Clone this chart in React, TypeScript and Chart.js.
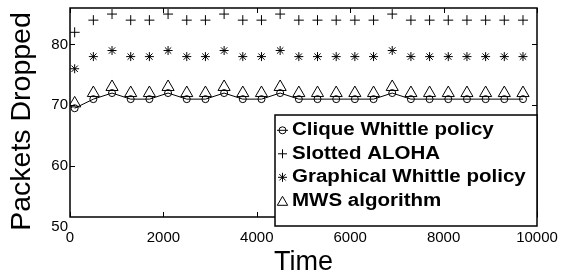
import React, { useEffect, useRef } from 'react';
import { Chart, registerables } from 'chart.js';

Chart.register(...registerables);

const FONT = '"Liberation Sans", Arial, Helvetica, sans-serif';

const timeSteps = [100, 500, 900, 1300, 1700, 2100, 2500, 2900, 3300, 3700, 4100, 4500, 4900, 5300, 5700, 6100, 6500, 6900, 7300, 7700, 8100, 8500, 8900, 9300, 9700];
const cliqueWhittle = [69.5, 71, 72, 71, 71, 72, 71, 71, 72, 71, 71, 72, 71, 71, 71, 71, 71, 72, 71, 71, 71, 71, 71, 71, 71];
const slottedAloha = [82, 84, 85, 84, 84, 85, 84, 84, 85, 84, 84, 85, 84, 84, 84, 84, 84, 85, 84, 84, 84, 84, 84, 84, 84];
const graphicalWhittle = [76, 78, 79, 78, 78, 79, 78, 78, 79, 78, 78, 79, 78, 78, 78, 78, 78, 79, 78, 78, 78, 78, 78, 78, 78];
const mwsAlgorithm = [70.3, 72, 73, 72, 72, 73, 72, 72, 73, 72, 72, 73, 72, 72, 72, 72, 72, 73, 72, 72, 72, 72, 72, 72, 72];

const seriesLabels = ['Clique Whittle policy', 'Slotted ALOHA', 'Graphical Whittle policy', 'MWS algorithm'];
const seriesMarkers = ['circle', 'cross', 'star', 'triangle'];
const xTickValues = [0, 2000, 4000, 6000, 8000, 10000];
const yTickValues = [50, 60, 70, 80];
const xTitle = 'Time';
const yTitle = 'Packets Dropped';

function drawMarker(ctx: CanvasRenderingContext2D, style: string, x: number, y: number, r: number) {
  ctx.beginPath();
  if (style === 'circle') {
    ctx.arc(x, y, r, 0, Math.PI * 2);
  } else if (style === 'cross') {
    ctx.moveTo(x - r, y); ctx.lineTo(x + r, y);
    ctx.moveTo(x, y - r); ctx.lineTo(x, y + r);
  } else if (style === 'star') {
    ctx.moveTo(x - r, y); ctx.lineTo(x + r, y);
    ctx.moveTo(x, y - r); ctx.lineTo(x, y + r);
    const d = r * Math.SQRT1_2;
    ctx.moveTo(x - d, y - d); ctx.lineTo(x + d, y + d);
    ctx.moveTo(x - d, y + d); ctx.lineTo(x + d, y - d);
  } else if (style === 'triangle') {
    ctx.moveTo(x, y - r);
    ctx.lineTo(x + 0.866 * r, y + 0.5 * r);
    ctx.lineTo(x - 0.866 * r, y + 0.5 * r);
    ctx.closePath();
  }
  ctx.stroke();
}

const framePlugin = {
  id: 'matlabFrame',
  afterDatasetsDraw(chart: any) {
    const { ctx, chartArea: a, scales } = chart;
    const xs = scales.x;
    const ys = scales.y;
    ctx.save();
    ctx.strokeStyle = '#000';
    ctx.lineWidth = 1;
    ctx.beginPath();
    for (const v of xTickValues) {
      const px = Math.round(xs.getPixelForValue(v)) + 0.5;
      ctx.moveTo(px, a.bottom); ctx.lineTo(px, a.bottom - 5);
      ctx.moveTo(px, a.top); ctx.lineTo(px, a.top + 5);
    }
    for (const v of yTickValues) {
      if (v <= ys.min || v >= ys.max) continue;
      const py = Math.round(ys.getPixelForValue(v)) + 0.5;
      ctx.moveTo(a.left, py); ctx.lineTo(a.left + 5, py);
      ctx.moveTo(a.right, py); ctx.lineTo(a.right - 5, py);
    }
    ctx.stroke();
    ctx.lineWidth = 1.5;
    ctx.strokeRect(a.left, a.top, a.right - a.left, a.bottom - a.top);

    // y axis title
    ctx.save();
    ctx.translate(22.5, 121.5);
    ctx.rotate(-Math.PI / 2);
    ctx.font = `28.5px ${FONT}`;
    ctx.fillStyle = '#000';
    ctx.textAlign = 'center';
    ctx.textBaseline = 'middle';
    ctx.fillText(yTitle, 0, 0);
    ctx.restore();

    // legend box
    const lx0 = 275, ly0 = 115, lx1 = 537, ly1 = 226;
    ctx.fillStyle = '#fff';
    ctx.fillRect(lx0, ly0, lx1 - lx0, ly1 - ly0);
    ctx.lineWidth = 1.5;
    ctx.strokeStyle = '#000';
    ctx.strokeRect(lx0, ly0, lx1 - lx0, ly1 - ly0);
    const radii: Record<string, number> = { circle: 3.5, cross: 4.5, star: 4.5, triangle: 6 };
    chart.data.datasets.forEach((ds: any, i: number) => {
      const yy = 130.3 + i * 23.5;
      const style = seriesMarkers[i];
      ctx.lineWidth = 1;
      ctx.strokeStyle = '#000';
      if (ds.showLine) {
        ctx.beginPath();
        ctx.moveTo(277, yy); ctx.lineTo(288, yy);
        ctx.stroke();
      }
      drawMarker(ctx, style, 282.5, style === 'triangle' ? yy + 1.5 : yy, radii[style]);
      ctx.save();
      ctx.translate(292, yy);
      ctx.scale(1.14, 1);
      ctx.font = `bold 18px ${FONT}`;
      ctx.fillStyle = '#000';
      ctx.textAlign = 'left';
      ctx.textBaseline = 'middle';
      ctx.fillText(ds.label, 0, 0);
      ctx.restore();
    });
    ctx.restore();
  },
};

export default function App() {
  const canvasRef = useRef<HTMLCanvasElement | null>(null);

  useEffect(() => {
    document.body.style.margin = '0';
    const canvas = canvasRef.current;
    if (!canvas) return;
    const series = [cliqueWhittle, slottedAloha, graphicalWhittle, mwsAlgorithm];
    const radii = [3.5, 5, 4.5, 7];
    const datasets = series.map((vals, i) => ({
      label: seriesLabels[i],
      data: timeSteps.map((t, j) => ({ x: t, y: vals[j] })),
      showLine: i === 0,
      borderColor: '#000',
      borderWidth: 1,
      backgroundColor: 'rgba(0,0,0,0)',
      pointStyle: seriesMarkers[i],
      pointRadius: radii[i],
      pointBorderWidth: 1,
      pointBorderColor: '#000',
      pointBackgroundColor: 'rgba(0,0,0,0)',
      tension: 0,
    }));

    const zeroPad = (s: any) => {
      s.paddingLeft = 0; s.paddingRight = 0; s.paddingTop = 0; s.paddingBottom = 0;
    };

    const chart = new Chart(canvas, {
      type: 'scatter',
      data: { datasets },
      options: {
        animation: false,
        responsive: true,
        maintainAspectRatio: false,
        devicePixelRatio: 1,
        layout: { padding: { left: 0, top: 7, right: 24, bottom: 0 } },
        plugins: { legend: { display: false }, tooltip: { enabled: false } },
        scales: {
          x: {
            type: 'linear',
            min: 0,
            max: 10000,
            grid: { display: false, drawTicks: false },
            border: { display: false },
            afterBuildTicks: (s: any) => { s.ticks = xTickValues.map((v) => ({ value: v })); },
            afterFit: (s: any) => { s.height = 63; zeroPad(s); },
            ticks: {
              autoSkip: false,
              maxRotation: 0,
              padding: 11.5,
              color: '#000',
              font: { family: FONT, size: 15 },
              callback: (v: any) => String(v),
            },
            title: {
              display: true,
              text: xTitle,
              color: '#000',
              font: { family: FONT, size: 27, lineHeight: 1.2 },
              padding: { top: 0, bottom: 1 },
            },
          },
          y: {
            type: 'linear',
            min: 51.6,
            max: 86,
            grid: { display: false, drawTicks: false },
            border: { display: false },
            afterBuildTicks: (s: any) => { s.ticks = yTickValues.map((v) => ({ value: v })); },
            afterFit: (s: any) => { s.width = 70; zeroPad(s); },
            ticks: {
              autoSkip: false,
              padding: 2,
              color: '#000',
              font: { family: FONT, size: 15 },
              callback: (v: any) => String(v),
            },
          },
        },
      },
      plugins: [framePlugin],
    });
    return () => chart.destroy();
  }, []);

  return (
    <div style={{ position: 'absolute', left: 0, top: 0, width: 561, height: 280, background: '#fff' }}>
      <canvas ref={canvasRef} />
    </div>
  );
}
